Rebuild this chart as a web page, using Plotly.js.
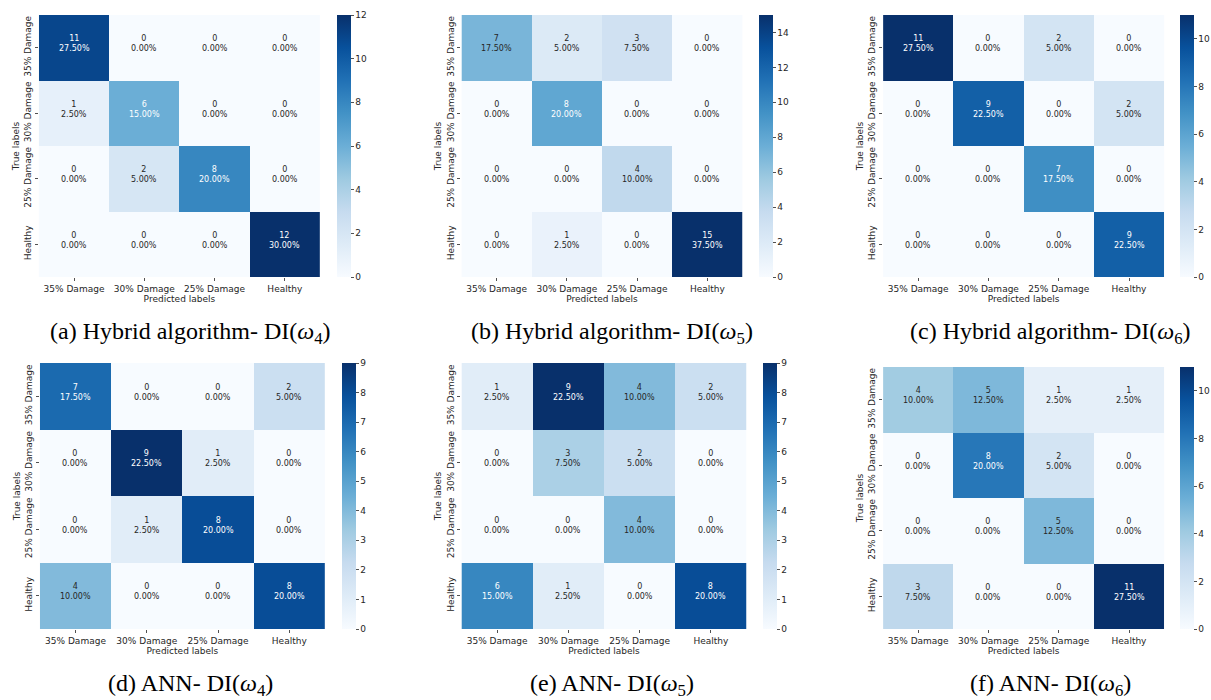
<!DOCTYPE html>
<html>
<head>
<meta charset="utf-8">
<script src="https://cdn.plot.ly/plotly-3.0.1.min.js"></script>
<style>html,body{margin:0;padding:0;background:#fff;}#chart{width:1211px;height:700px;}</style>
</head>
<body>
<div id="chart"></div>
<script>
// ---- data ----
const predictedLabels = ["35% Damage", "30% Damage", "25% Damage", "Healthy"];
const trueLabels = ["35% Damage", "30% Damage", "25% Damage", "Healthy"];
const totalSamples = 40;

const hybridW4 = [[11, 0, 0, 0], [1, 6, 0, 0], [0, 2, 8, 0], [0, 0, 0, 12]];
const hybridW5 = [[7, 2, 3, 0], [0, 8, 0, 0], [0, 0, 4, 0], [0, 1, 0, 15]];
const hybridW6 = [[11, 0, 2, 0], [0, 9, 0, 2], [0, 0, 7, 0], [0, 0, 0, 9]];
const annW4 = [[7, 0, 0, 2], [0, 9, 1, 0], [0, 1, 8, 0], [4, 0, 0, 8]];
const annW5 = [[1, 9, 4, 2], [0, 3, 2, 0], [0, 0, 4, 0], [6, 1, 0, 8]];
const annW6 = [[4, 5, 1, 1], [0, 8, 2, 0], [0, 0, 5, 0], [3, 0, 0, 11]];

const captions = [
  "(a) Hybrid algorithm- DI(<i>ω</i><sub>4</sub>)",
  "(b) Hybrid algorithm- DI(<i>ω</i><sub>5</sub>)",
  "(c) Hybrid algorithm- DI(<i>ω</i><sub>6</sub>)",
  "(d) ANN- DI(<i>ω</i><sub>4</sub>)",
  "(e) ANN- DI(<i>ω</i><sub>5</sub>)",
  "(f) ANN- DI(<i>ω</i><sub>6</sub>)"
];
const matrices = [hybridW4, hybridW5, hybridW6, annW4, annW5, annW6];

// ---- layout geometry (pixels) ----
const W = 1211, H = 700;
const boxes = [
  {x0: 39, x1: 321, y0: 15, y1: 277, cb: 338, cap: 191, capY: 333, dt: 2},
  {x0: 463, x1: 745, y0: 15, y1: 277, cb: 762, cap: 614, capY: 333, dt: 2},
  {x0: 886, x1: 1168, y0: 15, y1: 277, cb: 1184, cap: 1054, capY: 333, dt: 2},
  {x0: 40, x1: 326, y0: 363, y1: 629, cb: 343, cap: 191, capY: 685, dt: 1},
  {x0: 463, x1: 749, y0: 363, y1: 629, cb: 766, cap: 614, capY: 685, dt: 1},
  {x0: 886, x1: 1168, y0: 367, y1: 629, cb: 1184, cap: 1054, capY: 685, dt: 2}
];

const bluesStops = ["#f7fbff", "#deebf7", "#c6dbef", "#9ecae1", "#6baed6", "#4292c6", "#2171b5", "#08519c", "#08306b"];
const blues = bluesStops.map((c, i) => [i / (bluesStops.length - 1), c]);

function hexToRgb(h) { return [parseInt(h.substr(1, 2), 16), parseInt(h.substr(3, 2), 16), parseInt(h.substr(5, 2), 16)]; }
function colorAt(t) {
  t = Math.max(0, Math.min(1, t));
  const n = bluesStops.length - 1;
  const i = Math.min(n - 1, Math.floor(t * n));
  const f = t * n - i;
  const a = hexToRgb(bluesStops[i]), b = hexToRgb(bluesStops[i + 1]);
  return a.map((v, k) => v + (b[k] - v) * f);
}
function lum(rgb) {
  const l = rgb.map(v => { v /= 255; return v <= 0.03928 ? v / 12.92 : Math.pow((v + 0.055) / 1.055, 2.4); });
  return 0.2126 * l[0] + 0.7152 * l[1] + 0.0722 * l[2];
}

const FONT = "DejaVu Sans, sans-serif";
const TXT = "#262626";
const data = [];
const layout = {
  width: W, height: H,
  margin: {l: 0, r: 0, t: 0, b: 0},
  paper_bgcolor: "#ffffff", plot_bgcolor: "#ffffff",
  font: {family: FONT, size: 9, color: TXT},
  annotations: [],
  showlegend: false
};

matrices.forEach((m, idx) => {
  const b = boxes[idx];
  const sfx = idx === 0 ? "" : String(idx + 1);
  const xa = "x" + sfx, ya = "y" + sfx;
  let zmin = Infinity, zmax = -Infinity;
  m.forEach(r => r.forEach(v => { zmin = Math.min(zmin, v); zmax = Math.max(zmax, v); }));
  data.push({
    type: "heatmap",
    z: m, x: predictedLabels, y: trueLabels,
    xaxis: xa, yaxis: ya,
    colorscale: blues, zmin: zmin, zmax: zmax,
    xgap: 0, ygap: 0,
    hoverinfo: "skip",
    colorbar: {
      x: b.cb / W, xanchor: "left", xref: "paper",
      y: (H - b.y0) / H, yanchor: "top", yref: "paper",
      len: b.y1 - b.y0, lenmode: "pixels",
      thickness: 14, thicknessmode: "pixels",
      xpad: 0, ypad: 0,
      outlinewidth: 0,
      ticks: "outside", ticklen: 3, tickwidth: 0.8, tickcolor: TXT,
      tickfont: {family: FONT, size: 9, color: TXT},
      dtick: b.dt, tick0: 0
    }
  });
  const axX = {
    domain: [b.x0 / W, b.x1 / W], anchor: ya,
    type: "category", showgrid: false, zeroline: false, showline: false,
    ticks: "outside", ticklen: 3, tickwidth: 0.8, tickcolor: TXT,
    tickfont: {family: FONT, size: 9, color: TXT},
    title: {text: "Predicted labels", font: {family: FONT, size: 9, color: TXT}, standoff: 0},
    fixedrange: true
  };
  const axY = {
    domain: [(H - b.y1) / H, (H - b.y0) / H], anchor: xa,
    type: "category", autorange: "reversed", showgrid: false, zeroline: false, showline: false,
    ticks: "outside", ticklen: 3, tickwidth: 0.8, tickcolor: TXT,
    tickangle: -90,
    tickfont: {family: FONT, size: 9, color: TXT},
    title: {text: "True labels", font: {family: FONT, size: 9, color: TXT}, standoff: 2},
    fixedrange: true
  };
  layout["xaxis" + sfx] = axX;
  layout["yaxis" + sfx] = axY;

  // cell annotations
  m.forEach((row, i) => row.forEach((v, j) => {
    const t = (v - zmin) / (zmax - zmin);
    const col = lum(colorAt(t)) > 0.408 ? TXT : "#ffffff";
    layout.annotations.push({
      xref: xa, yref: ya, x: predictedLabels[j], y: trueLabels[i],
      text: v + "<br>" + (v / totalSamples * 100).toFixed(2) + "%",
      showarrow: false, yshift: 4,
      font: {family: FONT, size: 8, color: col},
      align: "center"
    });
  }));

  // caption
  layout.annotations.push({
    xref: "paper", yref: "paper",
    x: b.cap / W, y: (H - b.capY) / H,
    xanchor: "center", yanchor: "middle",
    text: captions[idx], showarrow: false,
    font: {family: "Liberation Serif, Times New Roman, serif", size: 24, color: "#000000"}
  });
});

Plotly.newPlot("chart", data, layout, {staticPlot: true, displayModeBar: false});
</script>
</body>
</html>
